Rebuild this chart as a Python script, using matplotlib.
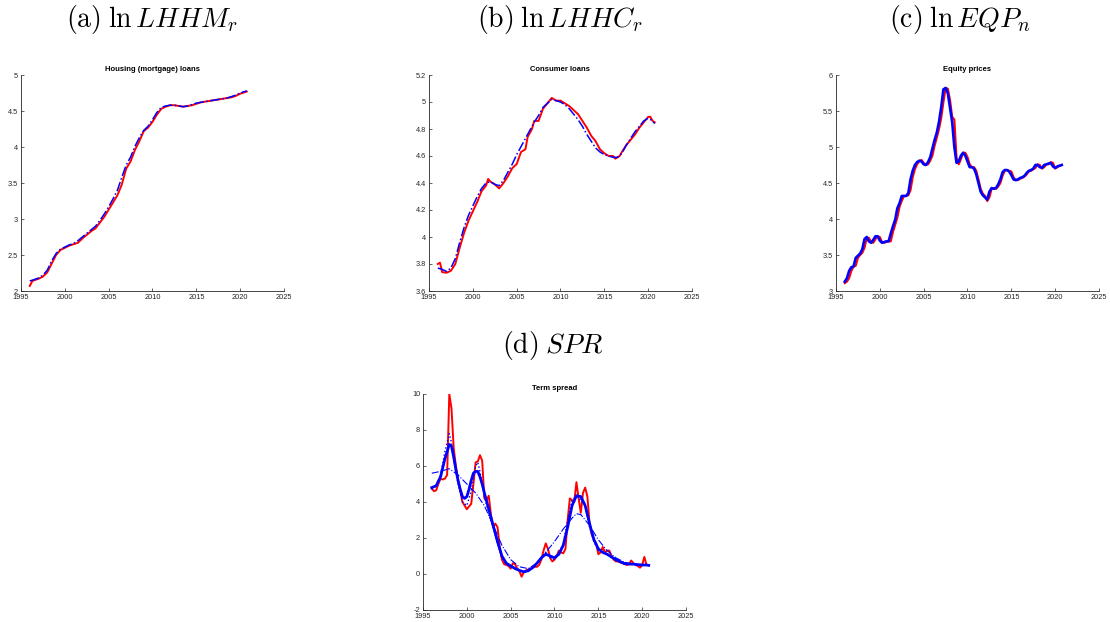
import matplotlib.pyplot as plt
import numpy as np

plt.rcParams['mathtext.fontset'] = 'cm'
plt.rcParams['font.family'] = ['Liberation Sans', 'DejaVu Sans']

# ---- (a) housing loans, half-yearly
years_a = [1996, 1996.3, 1997, 1997.5, 1998, 1998.5, 1999, 1999.5, 2000, 2000.5,
           2001, 2001.5, 2002, 2002.5, 2003, 2003.5, 2004, 2004.5, 2005, 2005.5,
           2006, 2006.5, 2007, 2007.5, 2008, 2008.5, 2009, 2009.5, 2010, 2010.5,
           2011, 2011.5, 2012, 2012.5, 2013, 2013.5, 2014, 2014.5, 2015, 2015.5,
           2016, 2016.5, 2017, 2017.5, 2018, 2018.5, 2019, 2019.5, 2020, 2020.5, 2020.75]
lhhm_red = [2.07, 2.14, 2.17, 2.20, 2.26, 2.38, 2.50, 2.57, 2.60, 2.63,
            2.65, 2.67, 2.73, 2.78, 2.83, 2.87, 2.95, 3.03, 3.13, 3.23,
            3.33, 3.48, 3.70, 3.80, 3.96, 4.08, 4.22, 4.27, 4.35, 4.45,
            4.53, 4.56, 4.58, 4.58, 4.57, 4.56, 4.57, 4.58, 4.60, 4.62,
            4.63, 4.64, 4.65, 4.66, 4.67, 4.68, 4.69, 4.71, 4.74, 4.76, 4.77]
lhhm_blue = [2.14, 2.15, 2.18, 2.22, 2.29, 2.42, 2.52, 2.58, 2.61, 2.64,
             2.66, 2.70, 2.75, 2.80, 2.85, 2.90, 2.98, 3.07, 3.17, 3.28,
             3.40, 3.58, 3.75, 3.86, 4.01, 4.13, 4.23, 4.29, 4.38, 4.48,
             4.55, 4.57, 4.58, 4.58, 4.57, 4.56, 4.57, 4.59, 4.61, 4.62,
             4.63, 4.64, 4.65, 4.66, 4.67, 4.68, 4.70, 4.72, 4.75, 4.77, 4.78]

# ---- (b) consumer loans
years_b = [1996, 1996.25, 1996.5, 1997, 1997.5, 1998, 1998.5, 1999, 1999.5, 2000,
           2000.5, 2001, 2001.5, 2001.75, 2002, 2002.5, 2003, 2003.5, 2004, 2004.5,
           2005, 2005.5, 2006, 2006.25, 2006.75, 2007, 2007.5, 2008, 2008.5, 2009,
           2009.5, 2010, 2010.5, 2011, 2011.5, 2012, 2012.5, 2013, 2013.5, 2014,
           2014.5, 2015, 2015.5, 2016, 2016.25, 2016.75, 2017, 2017.5, 2018, 2018.5,
           2019, 2019.5, 2020, 2020.25, 2020.5, 2020.75]
lhhc_red = [3.80, 3.81, 3.74, 3.735, 3.75, 3.80, 3.92, 4.03, 4.12, 4.19,
            4.26, 4.34, 4.38, 4.43, 4.41, 4.39, 4.36, 4.40, 4.45, 4.51,
            4.54, 4.63, 4.65, 4.74, 4.80, 4.86, 4.86, 4.95, 4.99, 5.03,
            5.01, 5.01, 4.99, 4.97, 4.94, 4.91, 4.86, 4.81, 4.75, 4.71,
            4.65, 4.62, 4.60, 4.60, 4.58, 4.60, 4.63, 4.68, 4.72, 4.76,
            4.81, 4.85, 4.89, 4.89, 4.86, 4.85]
years_b2 = [1996, 1996.5, 1997, 1997.5, 1998, 1998.5, 1999, 1999.5, 2000, 2000.5,
            2001, 2001.5, 2002, 2002.5, 2003, 2003.5, 2004, 2004.5, 2005, 2005.5,
            2006, 2006.5, 2007, 2007.5, 2008, 2008.5, 2009, 2009.5, 2010, 2010.5,
            2011, 2011.5, 2012, 2012.5, 2013, 2013.5, 2014, 2014.5, 2015, 2015.5,
            2016, 2016.5, 2017, 2017.5, 2018, 2018.5, 2019, 2019.5, 2020, 2020.5, 2020.75]
lhhc_blue = [3.77, 3.76, 3.745, 3.77, 3.84, 3.96, 4.07, 4.16, 4.23, 4.30,
             4.36, 4.40, 4.41, 4.39, 4.38, 4.42, 4.48, 4.54, 4.61, 4.67,
             4.73, 4.79, 4.85, 4.90, 4.96, 4.99, 5.02, 5.01, 5.00, 4.98,
             4.95, 4.91, 4.87, 4.82, 4.76, 4.71, 4.66, 4.63, 4.61, 4.60,
             4.59, 4.59, 4.62, 4.68, 4.73, 4.78, 4.82, 4.86, 4.88, 4.86, 4.84]

# ---- (c) equity prices, quarterly
years_q = [1996 + 0.25 * i for i in range(100)]
eqp_blue = [3.13, 3.18, 3.28, 3.33, 3.34, 3.46, 3.49, 3.52, 3.58, 3.72,
            3.75, 3.69, 3.67, 3.71, 3.76, 3.76, 3.70, 3.67, 3.68, 3.69,
            3.69, 3.80, 3.90, 3.99, 4.15, 4.22, 4.32, 4.32, 4.32, 4.36,
            4.55, 4.67, 4.75, 4.79, 4.81, 4.80, 4.76, 4.75, 4.79, 4.86,
            4.98, 5.10, 5.20, 5.35, 5.55, 5.80, 5.82, 5.75, 5.55, 5.35,
            5.00, 4.78, 4.80, 4.88, 4.92, 4.88, 4.80, 4.72, 4.72, 4.70,
            4.62, 4.50, 4.38, 4.33, 4.30, 4.27, 4.38, 4.43, 4.42, 4.43,
            4.48, 4.55, 4.65, 4.68, 4.68, 4.66, 4.61, 4.55, 4.54, 4.55,
            4.57, 4.58, 4.60, 4.64, 4.67, 4.68, 4.70, 4.75, 4.75, 4.72,
            4.71, 4.75, 4.76, 4.77, 4.78, 4.73, 4.71, 4.73, 4.74, 4.75]
eqp_red = [3.11, 3.13, 3.18, 3.28, 3.34, 3.35, 3.46, 3.50, 3.53, 3.60,
           3.73, 3.74, 3.68, 3.67, 3.72, 3.76, 3.75, 3.68, 3.67, 3.68,
           3.69, 3.69, 3.82, 3.92, 4.02, 4.17, 4.25, 4.32, 4.32, 4.33,
           4.40, 4.58, 4.69, 4.76, 4.80, 4.82, 4.78, 4.75, 4.76, 4.81,
           4.88, 5.02, 5.13, 5.25, 5.40, 5.62, 5.82, 5.81, 5.66, 5.42,
           5.38, 4.85, 4.76, 4.83, 4.92, 4.92, 4.86, 4.76, 4.72, 4.72,
           4.67, 4.55, 4.42, 4.35, 4.32, 4.25, 4.30, 4.42, 4.43, 4.42,
           4.45, 4.50, 4.60, 4.67, 4.68, 4.67, 4.66, 4.58, 4.54, 4.54,
           4.56, 4.57, 4.59, 4.62, 4.66, 4.67, 4.69, 4.71, 4.76, 4.75,
           4.70, 4.72, 4.76, 4.76, 4.79, 4.78, 4.70, 4.72, 4.74, 4.75]

# ---- (d) term spread, quarterly
spr_red = [4.75, 4.6, 4.65, 5.0, 5.3, 5.25, 5.3, 5.5, 10.0, 9.2,
           7.0, 6.0, 5.2, 4.6, 4.0, 3.8, 3.6, 3.75, 3.9, 5.0,
           6.2, 6.25, 6.6, 6.3, 4.2, 4.1, 4.35, 3.3, 2.6, 2.8,
           2.6, 1.5, 0.8, 0.55, 0.5, 0.45, 0.3, 0.6, 0.55, 0.3,
           0.15, -0.15, 0.1, 0.2, 0.25, 0.3, 0.35, 0.4, 0.4, 0.5,
           0.8, 1.3, 1.7, 1.4, 0.9, 0.7, 0.8, 1.0, 1.3, 1.2,
           1.15, 1.4, 3.0, 4.2, 4.1, 4.0, 5.1, 4.2, 3.4, 4.5,
           4.8, 4.3, 2.8, 2.2, 1.9, 1.7, 1.1, 1.2, 1.5, 1.2,
           1.3, 1.3, 1.0, 0.8, 0.7, 0.7, 0.65, 0.6, 0.55, 0.5,
           0.55, 0.75, 0.6, 0.5, 0.45, 0.35, 0.5, 0.95, 0.5, 0.5]
years_d = [1996, 1996.5, 1997, 1997.5, 1998, 1998.25, 1998.5, 1998.75, 1999, 1999.25,
           1999.5, 1999.75, 2000, 2000.25, 2000.5, 2000.75, 2001, 2001.25, 2001.5, 2001.75,
           2002, 2002.5, 2003, 2003.5, 2004, 2004.5, 2005, 2005.5, 2006, 2006.5,
           2007, 2007.5, 2008, 2008.5, 2009, 2009.5, 2010, 2010.5, 2011, 2011.5,
           2012, 2012.5, 2013, 2013.5, 2014, 2014.5, 2015, 2015.5, 2016, 2016.5,
           2017, 2017.5, 2018, 2018.5, 2019, 2019.5, 2020, 2020.5, 2020.75]
spr_blue = [4.8, 4.9, 5.4, 6.4, 7.2, 7.1, 6.5, 5.8, 5.2, 4.7,
            4.3, 4.2, 4.3, 4.7, 5.2, 5.6, 5.7, 5.7, 5.4, 5.0,
            4.5, 3.6, 2.7, 1.8, 1.0, 0.6, 0.45, 0.3, 0.2, 0.12,
            0.18, 0.35, 0.6, 0.9, 1.1, 1.0, 0.9, 1.1, 1.6, 2.6,
            3.8, 4.35, 4.3, 3.8, 2.8, 1.9, 1.4, 1.2, 1.1, 0.95,
            0.8, 0.68, 0.58, 0.55, 0.55, 0.52, 0.5, 0.5, 0.48]
years_d2 = [1996, 1996.5, 1997, 1997.5, 1998, 1998.25, 1998.5, 1999, 1999.5, 2000,
            2000.5, 2001, 2001.25, 2001.5, 2002, 2002.5, 2003, 2003.5, 2004, 2004.5,
            2005, 2005.5, 2006, 2006.5, 2007, 2007.5, 2008, 2008.5, 2009, 2009.5,
            2010, 2010.5, 2011, 2011.5, 2012, 2012.5, 2013, 2013.5, 2014, 2014.5,
            2015, 2015.5, 2016, 2016.5, 2017, 2017.5, 2018, 2019, 2020, 2020.75]
spr_blue_dot = [4.7, 4.9, 5.5, 6.8, 7.8, 7.3, 6.4, 5.0, 4.0, 3.8,
                4.6, 6.0, 6.2, 5.7, 4.3, 3.4, 2.6, 1.7, 0.9, 0.55,
                0.4, 0.35, 0.2, 0.1, 0.2, 0.35, 0.6, 0.9, 1.2, 0.9,
                0.8, 1.1, 1.7, 3.0, 4.1, 4.3, 4.1, 3.8, 2.6, 1.8,
                1.3, 1.2, 1.1, 0.9, 0.75, 0.65, 0.55, 0.55, 0.5, 0.5]
years_d3 = [1996, 1997, 1998, 1999, 2000, 2001, 2002, 2003, 2004, 2005,
            2006, 2007, 2008, 2009, 2010, 2011, 2012, 2012.5, 2013, 2014,
            2015, 2016, 2017, 2018, 2019, 2020, 2020.75]
spr_trend = [5.6, 5.7, 5.85, 5.5, 5.0, 4.5, 3.8, 2.7, 1.6, 0.8,
             0.4, 0.3, 0.6, 1.2, 1.8, 2.5, 3.1, 3.35, 3.3, 2.7,
             1.9, 1.3, 0.9, 0.65, 0.55, 0.5, 0.5]

W, H = 1110, 622
fig = plt.figure(figsize=(W / 100, H / 100), dpi=100)


def make_ax(x0, x1, ytop, ybot, title, ylim, yticks, ylabels):
    ax = fig.add_axes([x0 / W, 1 - ybot / H, (x1 - x0) / W, (ybot - ytop) / H])
    ax.set_xlim(1995, 2025)
    ax.set_ylim(*ylim)
    ax.set_xticks(range(1995, 2026, 5))
    ax.set_yticks(yticks)
    ax.set_yticklabels(ylabels)
    for s in ['top', 'right']:
        ax.spines[s].set_visible(False)
    for s in ['left', 'bottom']:
        ax.spines[s].set_color('#262626')
        ax.spines[s].set_linewidth(0.6)
    ax.tick_params(direction='in', length=2, width=0.5, labelsize=5.3,
                   colors='#262626')
    ax.tick_params(axis='x', pad=2.5)
    ax.tick_params(axis='y', pad=2)
    ax.set_title(title, fontsize=5.5, fontweight='bold', pad=3)
    return ax


def caption(x, y, s):
    fig.text(x / W, 1 - y / H, s, ha='center', va='center', fontsize=20)


ax = make_ax(21, 284, 75, 291, 'Housing (mortgage) loans', (2, 5),
             [2, 2.5, 3, 3.5, 4, 4.5, 5], ['2', '2.5', '3', '3.5', '4', '4.5', '5'])
ax.plot(years_a, lhhm_red, color='red', lw=1.4)
ax.plot(years_a, lhhm_blue, color='blue', lw=1.1, ls='-.')
caption(152, 20, r'$\mathrm{(a)}\;\ln LHHM_r$')

ax = make_ax(429, 692, 75, 291, 'Consumer loans', (3.6, 5.2),
             [3.6, 3.8, 4, 4.2, 4.4, 4.6, 4.8, 5, 5.2],
             ['3.6', '3.8', '4', '4.2', '4.4', '4.6', '4.8', '5', '5.2'])
ax.plot(years_b, lhhc_red, color='red', lw=1.4)
ax.plot(years_b2, lhhc_blue, color='blue', lw=1.1, ls='-.')
caption(560, 20, r'$\mathrm{(b)}\;\ln LHHC_r$')

ax = make_ax(836, 1099, 75, 291, 'Equity prices', (3, 6),
             [3, 3.5, 4, 4.5, 5, 5.5, 6], ['3', '3.5', '4', '4.5', '5', '5.5', '6'])
ax.plot(years_q, eqp_red, color='red', lw=1.5)
ax.plot(years_q, eqp_blue, color='blue', lw=1.9)
caption(960, 20, r'$\mathrm{(c)}\;\ln EQP_n$')

ax = make_ax(423, 686, 394, 610, 'Term spread', (-2, 10),
             [-2, 0, 2, 4, 6, 8, 10], ['-2', '0', '2', '4', '6', '8', '10'])
ax.plot(years_q, spr_red, color='red', lw=1.4)
ax.plot(years_d2, spr_blue_dot, color='blue', lw=1.0, ls=':')
ax.plot(years_d3, spr_trend, color='blue', lw=0.8, ls='-.')
ax.plot(years_d, spr_blue, color='blue', lw=2.0)
caption(553, 345, r'$\mathrm{(d)}\;SPR$')

fig.savefig('out.png', dpi=100)
